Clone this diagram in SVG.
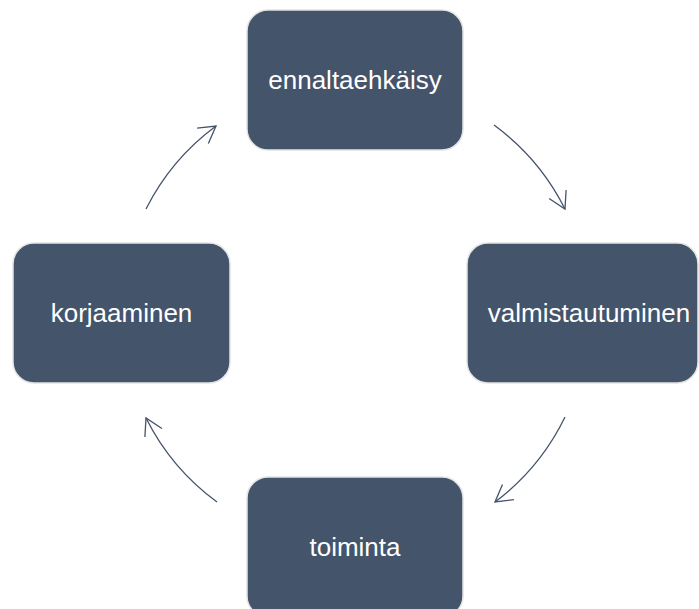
<svg xmlns="http://www.w3.org/2000/svg" width="699" height="609" viewBox="0 0 699 609">
<style>
.box{fill:#44546a;stroke:#e4e4e4;stroke-width:1.5}
.lbl{fill:#ffffff;font-family:"Liberation Sans",Arial,sans-serif;font-size:26px;text-anchor:middle}
.arc{fill:none;stroke:#44546a;stroke-width:1.3;marker-end:url(#ah)}
</style>
<defs>
<marker id="ah" markerUnits="userSpaceOnUse" markerWidth="30" markerHeight="30" viewBox="-20 -15 30 30" refX="0" refY="0" orient="auto">
<path d="M-16.5,-9.5 L0,0 L-16.5,9.5" fill="none" stroke="#44546a" stroke-width="1.3"/>
</marker>
</defs>
<rect width="699" height="609" fill="#ffffff"/>
<g id="connectors">
<path class="arc" d="M494,125 A234,234 0 0,1 565,209"/>
<path class="arc" d="M565,417 A234,234 0 0,1 495,502"/>
<path class="arc" d="M217,502 A234,234 0 0,1 146,418"/>
<path class="arc" d="M146,209 A234,234 0 0,1 216,126"/>
</g>
<g id="ennaltaehkaisy">
<rect class="box" x="247" y="10" width="216" height="140" rx="21"/>
<text class="lbl" x="355" y="89">ennaltaehkäisy</text>
</g>
<g id="valmistautuminen">
<rect class="box" x="467" y="243" width="231" height="140" rx="21"/>
<text class="lbl" x="589" y="322">valmistautuminen</text>
</g>
<g id="toiminta">
<rect class="box" x="247" y="477" width="216" height="140" rx="21"/>
<text class="lbl" x="355" y="556">toiminta</text>
</g>
<g id="korjaaminen">
<rect class="box" x="13" y="243" width="217" height="140" rx="21"/>
<text class="lbl" x="121.5" y="322">korjaaminen</text>
</g>
</svg>
